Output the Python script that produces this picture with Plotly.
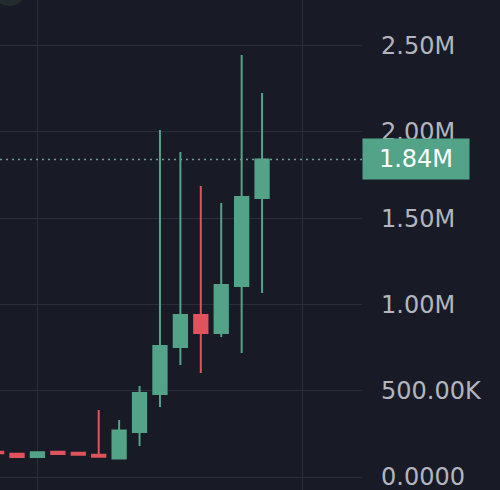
import plotly.graph_objects as go

# =============================================================================
# Data
# =============================================================================
bar_index = [0, 1, 2, 3, 4, 5, 6, 7, 8, 9, 10, 11, 12, 13]
open_ = [147000, 135000, 116000, 147000, 141000, 129000, 107000,
         261000, 481000, 753000, 939000, 834000, 1107000, 1616000]
high = [149000, 141000, 143000, 148000, 147000, 388000, 330000,
        527000, 2010000, 1883000, 1686000, 1587000, 2445000, 2225000]
low = [136000, 116000, 116000, 133000, 129000, 118000, 107000,
       180000, 406000, 649000, 603000, 811000, 718000, 1066000]
close = [137000, 116000, 143000, 133000, 129000, 118000, 269000,
         487000, 759000, 939000, 834000, 1112000, 1622000, 1840000]

y_tickvals = [0, 500000, 1000000, 1500000, 2000000, 2500000]
y_ticktext = ["0.0000", "500.00K", "1.00M", "1.50M", "2.00M", "2.50M"]
x_gridvals = [2, 15]
last_label = "1.84M"

# =============================================================================
# Style
# =============================================================================
BG = "#181b26"
GRID = "#2a2e3a"
GREEN = "#52a387"
RED = "#e0525c"
AXIS_TEXT = "#b2b5be"

fig = go.Figure()

fig.add_trace(go.Candlestick(
    x=bar_index,
    open=open_,
    high=high,
    low=low,
    close=close,
    increasing=dict(line=dict(color=GREEN, width=2), fillcolor=GREEN),
    decreasing=dict(line=dict(color=RED, width=2), fillcolor=RED),
    whiskerwidth=0,
    hoverinfo="skip",
    showlegend=False,
))

# faint avatar blob cut off at the top-left corner
fig.add_shape(
    type="circle",
    xref="paper",
    yref="paper",
    x0=-0.02,
    x1=0.07,
    y0=0.988,
    y1=1.05,
    line=dict(width=0),
    fillcolor="#222c2c",
    layer="below",
)

# last price dotted line + tag
fig.add_shape(
    type="line",
    xref="paper",
    yref="y",
    x0=0,
    x1=1,
    y0=close[-1],
    y1=close[-1],
    line=dict(color="#6f9c92", width=1.5, dash="2px,4px"),
)

fig.add_annotation(
    text=last_label,
    x=1,
    y=close[-1],
    xref="paper",
    yref="y",
    xanchor="left",
    yanchor="middle",
    showarrow=False,
    width=96,
    height=30,
    borderpad=5,
    align="center",
    bgcolor=GREEN,
    font=dict(family="DejaVu Sans", size=24, color="#ffffff"),
)

fig.update_layout(
    width=500,
    height=490,
    margin=dict(l=0, r=138, t=0, b=0),
    paper_bgcolor=BG,
    plot_bgcolor=BG,
    boxgap=0.07,
    showlegend=False,
    hovermode=False,
    xaxis=dict(
        range=[0.1665, 17.894],
        tickvals=x_gridvals,
        showticklabels=False,
        showgrid=True,
        gridcolor=GRID,
        gridwidth=1,
        zeroline=False,
        showline=False,
        rangeslider=dict(visible=False),
        fixedrange=True,
    ),
    yaxis=dict(
        side="right",
        range=[-75300, 2764000],
        tickvals=y_tickvals,
        ticktext=y_ticktext,
        showgrid=True,
        gridcolor=GRID,
        gridwidth=1,
        zeroline=False,
        showline=False,
        ticks="",
        ticklabelstandoff=18,
        ticklabeloverflow="allow",
        tickfont=dict(family="DejaVu Sans", size=24, color=AXIS_TEXT),
        fixedrange=True,
    ),
)

fig.write_html(
    "out.html",
    config={"displayModeBar": False},
    post_script="document.body.style.margin='0';",
)
